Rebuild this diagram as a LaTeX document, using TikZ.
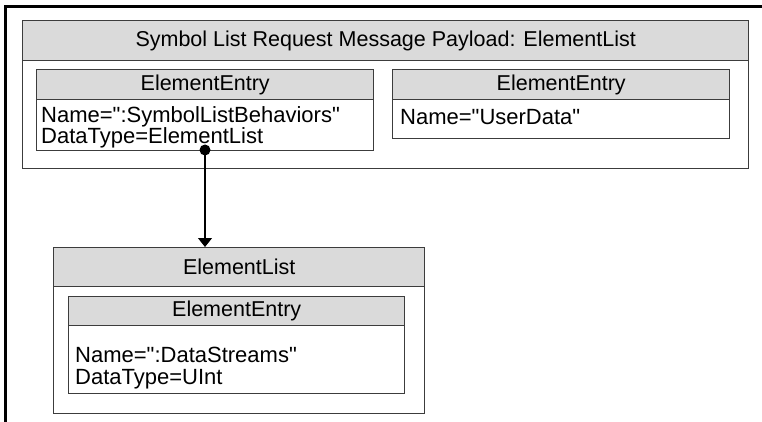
\documentclass[tikz,border=0pt]{standalone}
\usepackage{fontspec}
\setmainfont{Liberation Sans}[Ligatures=TeXOff]
\usetikzlibrary{arrows.meta,positioning}
\definecolor{colHead}{HTML}{DADADA}
\definecolor{colLine}{HTML}{3C3C3C}

\begin{document}
\begin{tikzpicture}[x=1pt, y=-1pt,
  box/.style={draw=colLine, line width=1.4pt, fill=white, inner sep=0pt, anchor=north west},
  head/.style={draw=colLine, line width=1.4pt, fill=colHead, inner sep=0pt, anchor=north west,
               font=\fontsize{21.5}{21}\selectfont},
  txt/.style={anchor=north west, align=left, inner sep=0pt, font=\fontsize{22}{21.5}\selectfont},
  dot/.style={circle, fill=black, inner sep=0pt, minimum size=11pt},
  arr/.style={-{Triangle[length=9pt, width=14pt]}, line width=1.2pt, black}
]
  \useasboundingbox (0,0) rectangle (762,422);
  % page frame
  \draw[line width=3pt] (5.5,422) -- (5.5,6.5) -- (762,6.5);

  % payload
  \node[box, minimum width=726pt, minimum height=148pt] (pay) at (22,20) {};
  \node[head, minimum width=726pt, minimum height=40pt] (payhead) at (22,20)
    {Symbol List Request Message Payload: ElementList};

  \node[box, minimum width=337pt, minimum height=81pt] (entA) at (36,69) {};
  \node[head, minimum width=337pt, minimum height=30pt] (entAhead) at (36,69) {ElementEntry};
  \node[txt] (entAtxt) at (41,106) {Name=":SymbolListBehaviors"\\DataType=ElementList};

  \node[box, minimum width=337pt, minimum height=69pt] (entB) at (392,69) {};
  \node[head, minimum width=337pt, minimum height=30pt] (entBhead) at (392,69) {ElementEntry};
  \node[txt] (entBtxt) at (400,109) {Name="UserData"};

  % element list
  \node[box, minimum width=371pt, minimum height=166pt] (lst) at (53,247) {};
  \node[head, minimum width=371pt, minimum height=39pt] (lsthead) at (53,247) {ElementList};

  \node[box, minimum width=336pt, minimum height=97pt] (entC) at (68,296) {};
  \node[head, minimum width=336pt, minimum height=29pt] (entChead) at (68,296) {ElementEntry};
  \node[txt] (entCtxt) at (75,347) {Name=":DataStreams"\\DataType=UInt};

  \node[dot] (src) at (205,150) {};
  \draw[arr] (src.center) -- (src |- lsthead.north);
\end{tikzpicture}
\end{document}
